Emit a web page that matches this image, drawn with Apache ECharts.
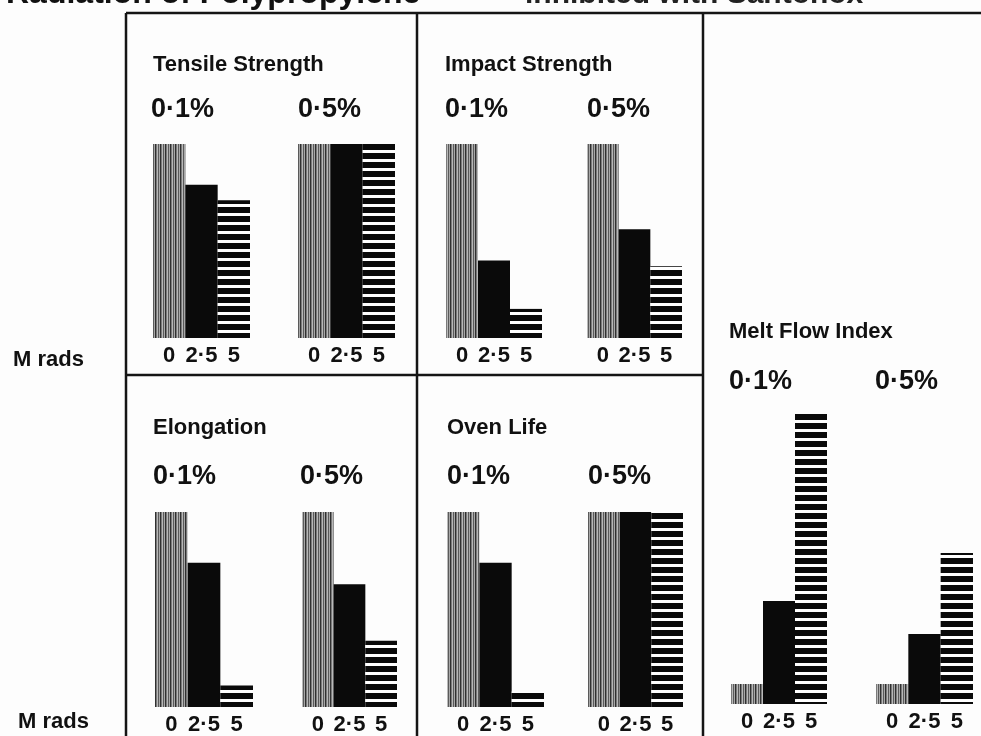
<!DOCTYPE html>
<html>
<head>
<meta charset="utf-8">
<script src="https://cdn.jsdelivr.net/npm/echarts@6/dist/echarts.min.js"></script>
<style>html,body{margin:0;padding:0;background:#fff;}#c{width:981px;height:736px;}</style>
</head>
<body>
<div id="c"></div>
<script>
// ---- data ----
const doses = ['0', '2·5', '5'];            // M rads
const concentrations = ['0·1%', '0·5%'];
const tensile01 = [100, 79, 71];
const tensile05 = [100, 100, 100];
const impact01 = [100, 40, 15];
const impact05 = [100, 56, 37];
const elong01 = [100, 74, 11];
const elong05 = [100, 63, 34];
const oven01 = [100, 74, 8];
const oven05 = [100, 100, 100];
const mfi01 = [1.0, 5.15, 14.5];
const mfi05 = [1.0, 3.5, 7.55];
const panelTitles = ['Tensile Strength', 'Impact Strength', 'Elongation', 'Oven Life', 'Melt Flow Index'];

// ---- patterns ----
function makeVertical() {
  const c = document.createElement('canvas'); c.width = 5; c.height = 4;
  const g = c.getContext('2d');
  const cols = ['#303030', '#7a7a7a', '#b8b8b8', '#5a5a5a', '#a8a8a8'];
  cols.forEach((col, i) => { g.fillStyle = col; g.fillRect(i, 0, 1, 4); });
  return c;
}
function makeHorizontal() {
  const c = document.createElement('canvas'); c.width = 4; c.height = 9;
  const g = c.getContext('2d');
  g.fillStyle = '#fff'; g.fillRect(0, 0, 4, 9);
  g.fillStyle = '#0a0a0a'; g.fillRect(0, 0, 4, 6);
  return c;
}
const patV = { image: makeVertical(), repeat: 'repeat' };
const patH = { image: makeHorizontal(), repeat: 'repeat' };
const fills = [patV, '#0a0a0a', patH];

// ---- layout of groups ----
const FONT = '"Liberation Sans", Arial, sans-serif';
const groups = [
  { data: tensile01, left: 153, width: 97, top: 144, height: 194, max: 100 },
  { data: tensile05, left: 298, width: 97, top: 144, height: 194, max: 100 },
  { data: impact01, left: 446, width: 96, top: 144, height: 194, max: 100 },
  { data: impact05, left: 587, width: 95, top: 144, height: 194, max: 100 },
  { data: elong01, left: 155, width: 98, top: 512, height: 195, max: 100 },
  { data: elong05, left: 302, width: 95, top: 512, height: 195, max: 100 },
  { data: oven01, left: 447, width: 97, top: 512, height: 195, max: 100 },
  { data: oven05, left: 588, width: 95, top: 512, height: 195, max: 100 },
  { data: mfi01, left: 731, width: 96, top: 404, height: 300, max: 15 },
  { data: mfi05, left: 876, width: 97, top: 404, height: 300, max: 15 }
];

const grid = [], xAxis = [], yAxis = [], series = [];
groups.forEach((gr, i) => {
  grid.push({ left: gr.left, top: gr.top, width: gr.width, height: gr.height, containLabel: false });
  xAxis.push({
    type: 'category', gridIndex: i, data: doses,
    axisLine: { show: false }, axisTick: { show: false }, splitLine: { show: false },
    axisLabel: { show: true, interval: 0, margin: 7, color: '#111', fontFamily: FONT, fontWeight: 'bold', fontSize: 22 }
  });
  yAxis.push({ type: 'value', gridIndex: i, min: 0, max: gr.max, show: false, splitLine: { show: false } });
  series.push({
    type: 'bar', xAxisIndex: i, yAxisIndex: i,
    barWidth: '100%', barCategoryGap: '0%', silent: true, animation: false,
    data: gr.data.map((v, k) => ({ value: v, itemStyle: { color: fills[k] } }))
  });
});

// ---- text and frame ----
function txt(x, y, s, size, weight, extra) {
  return Object.assign({
    type: 'text', x: x, y: y, silent: true,
    style: { text: s, fill: '#111', font: (weight || 'bold') + ' ' + size + 'px ' + FONT, textVerticalAlign: 'middle' }
  }, extra || {});
}
function line(x1, y1, x2, y2) {
  return { type: 'line', silent: true, shape: { x1: x1, y1: y1, x2: x2, y2: y2 }, style: { stroke: '#151515', lineWidth: 2.5 } };
}
const graphic = [
  { type: 'text', x: 6, y: 10, silent: true,
    style: { text: 'Radiation of Polypropylene', fill: '#111', font: 'bold 32px ' + FONT, textVerticalAlign: 'bottom' } },
  { type: 'text', x: 525, y: 10, silent: true,
    style: { text: 'inhibited with Santonox', fill: '#222', font: 'bold 30px ' + FONT, textVerticalAlign: 'bottom' } },
  line(126, 13, 981, 13),
  line(126, 13, 126, 736),
  line(417, 13, 417, 736),
  line(703, 13, 703, 736),
  line(126, 375, 703, 375),
  txt(153, 65, panelTitles[0], 22),
  txt(445, 65, panelTitles[1], 22),
  txt(153, 428, panelTitles[2], 22),
  txt(447, 428, panelTitles[3], 22),
  txt(729, 332, panelTitles[4], 22),
  txt(151, 110, concentrations[0], 27),
  txt(298, 110, concentrations[1], 27),
  txt(445, 110, concentrations[0], 27),
  txt(587, 110, concentrations[1], 27),
  txt(153, 477, concentrations[0], 27),
  txt(300, 477, concentrations[1], 27),
  txt(447, 477, concentrations[0], 27),
  txt(588, 477, concentrations[1], 27),
  txt(729, 382, concentrations[0], 27),
  txt(875, 382, concentrations[1], 27),
  txt(13, 360, 'M rads', 22),
  txt(18, 722, 'M rads', 22)
];

const chart = echarts.init(document.getElementById('c'), null, { renderer: 'canvas' });
chart.setOption({
  backgroundColor: '#fdfdfd',
  animation: false,
  grid: grid, xAxis: xAxis, yAxis: yAxis, series: series,
  graphic: graphic
});
</script>
</body>
</html>
